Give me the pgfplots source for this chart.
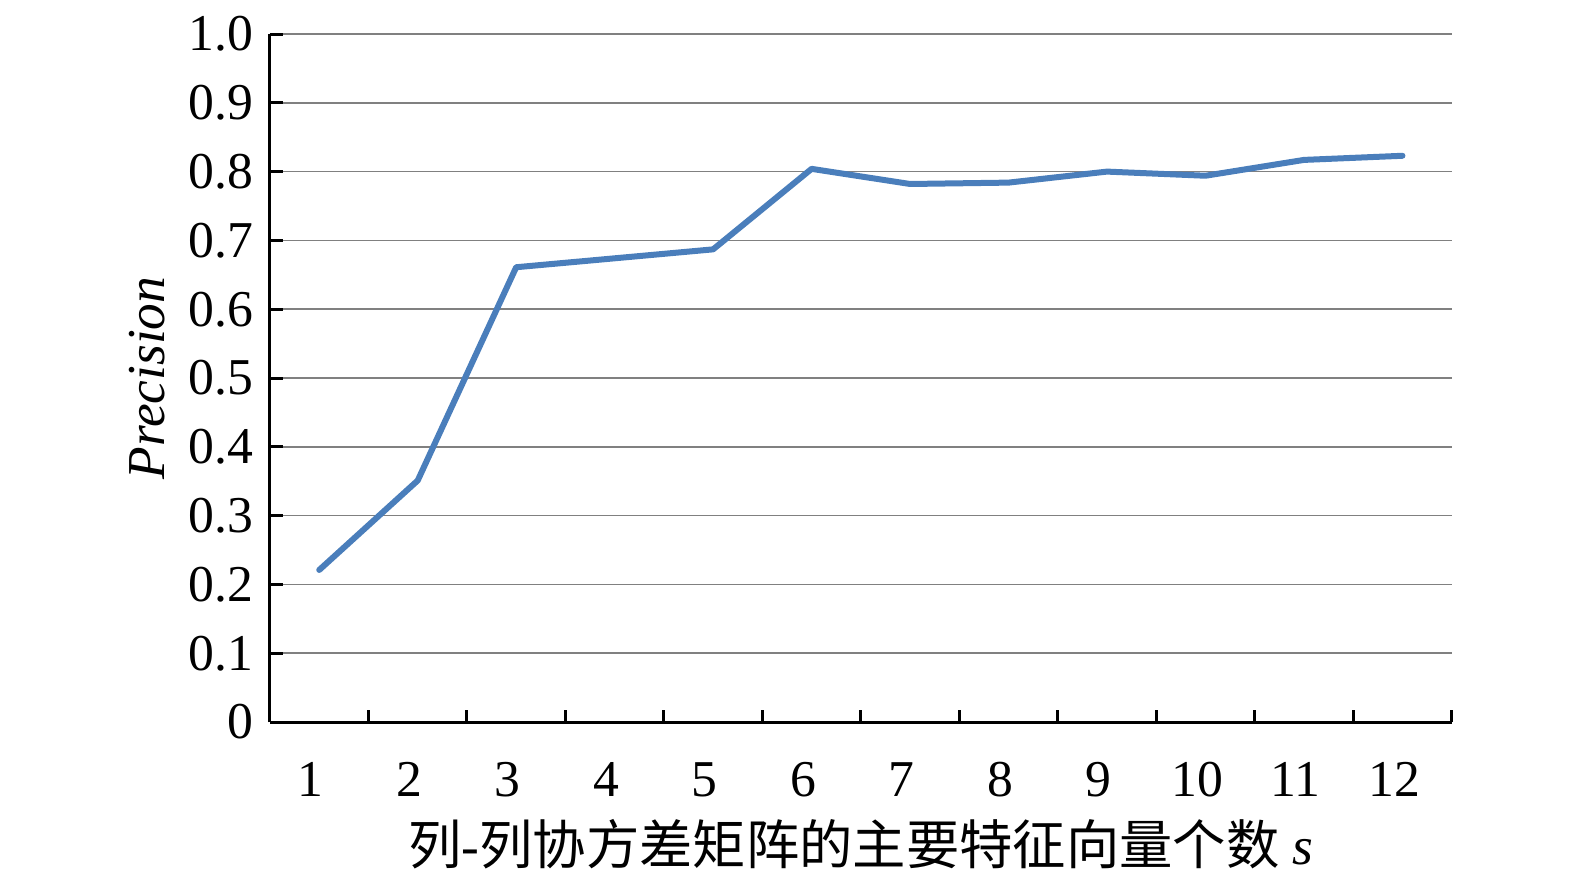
\documentclass[border=0pt]{standalone}
\usepackage{fontspec}
\setmainfont{Liberation Serif}
\newfontfamily\cjk{Noto Sans CJK SC}
\usepackage{pgfplots}
\pgfplotsset{compat=1.18}

\definecolor{lineblue}{RGB}{74,126,187}
\definecolor{gridgray}{RGB}{128,128,128}

\pgfplotstableread{
s prec
1 0.221
2 0.351
3 0.661
4 0.674
5 0.687
6 0.804
7 0.782
8 0.784
9 0.800
10 0.794
11 0.817
12 0.823
}\prectable

\begin{document}
\begin{tikzpicture}
\begin{axis}[
    name=ax,
    scale only axis,
    width=354.5pt, height=206.4pt,
    xmin=0.5, xmax=12.5,
    ymin=0, ymax=1,
    axis lines*=left,
    axis line style={black, line width=0.9pt, -},
    xtick={1,...,12},
    xticklabels={1,2,3,4,5,6,7,8,9,10,11,12},
    major x tick style={draw=none},
    minor xtick={0.5,1.5,...,12.5},
    minor x tick style={black, line width=0.9pt},
    minor tick length=3.6pt,
    ytick={0,0.1,...,1.0},
    yticklabels={0,0.1,0.2,0.3,0.4,0.5,0.6,0.7,0.8,0.9,1.0},
    major tick length=4pt,
    tick align=inside,
    y tick style={black, line width=0.9pt},
    ymajorgrids,
    major grid style={gridgray, line width=0.5pt},
    every tick label/.append style={font=\fontsize{15.5pt}{18pt}\selectfont},
    xticklabel style={anchor=base, yshift=-22.2pt, xshift=-2.5pt},
    yticklabel style={anchor=east, xshift=-1.5pt},
    xlabel={{\cjk 列}-{\cjk 列协方差矩阵的主要特征向量个数} \textit{s}},
    ylabel={\textit{Precision}},
    every axis x label/.style={at={(axis description cs:0.5,-0.178)}, anchor=center,
        font=\fontsize{16pt}{19pt}\selectfont},
    every axis y label/.style={at={(axis description cs:-0.104,0.5)}, anchor=center, rotate=90,
        font=\fontsize{16pt}{19pt}\selectfont},
    clip=false,
]
\addplot[lineblue, line width=1.8pt, line join=round, line cap=round, mark=none] table[x=s, y=prec] {\prectable};
\end{axis}
\pgfresetboundingbox
\path ([shift={(-81pt,-46.2pt)}]ax.south west) rectangle ([shift={(391.5pt,216.6pt)}]ax.south west);
\end{tikzpicture}
\end{document}
